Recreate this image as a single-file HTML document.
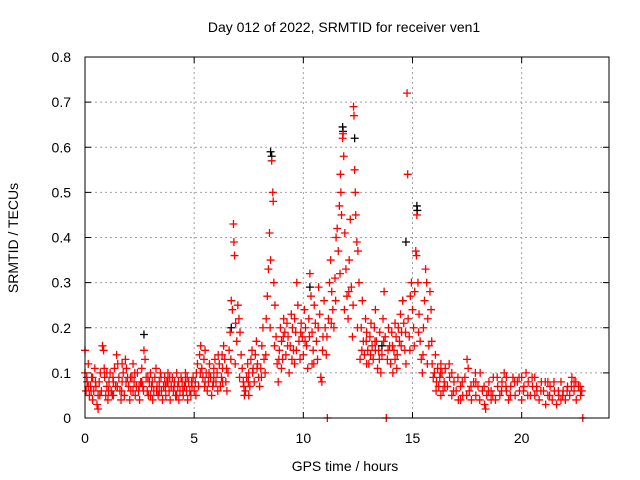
<!DOCTYPE html>
<html><head><meta charset="utf-8">
<style>
body{margin:0;background:#fff;}
svg{display:block;font-family:"Liberation Sans",sans-serif;}
</style></head>
<body>
<svg id="chart" width="640" height="480" viewBox="0 0 640 480">
<text x="344" y="32" font-size="14" text-anchor="middle">Day 012 of 2022, SRMTID for receiver ven1</text>
<text x="345" y="471" font-size="14" text-anchor="middle">GPS time / hours</text>
<text transform="translate(18,238) rotate(-90)" font-size="14" text-anchor="middle">SRMTID / TECUs</text>
<g id="grid"></g>
<g id="ticks"></g>
<g id="black"></g>
<g id="red"></g>
<rect x="85" y="57" width="524" height="361" fill="none" stroke="#000" stroke-width="1"/>
</svg>
<script>
const xTicks=[0,5,10,15,20];
const yTicks=[0,0.1,0.2,0.3,0.4,0.5,0.6,0.7,0.8];
const yTickLabels=["0","0.1","0.2","0.3","0.4","0.5","0.6","0.7","0.8"];
const blackPts=[[2.7,0.185],[8.5,0.59],[8.55,0.58],[11.8,0.645],[11.82,0.635],[12.35,0.62],[14.7,0.39],[15.2,0.47],[15.22,0.46],[14.55,0.26],[10.3,0.29],[6.7,0.2],[13.6,0.16]];
const redPts=[
[0,0.15],[0,0.1],[0.05,0.06],[0.1,0.08],[0.15,0.12],[0.2,0.05],[0.25,0.07],[0.3,0.09],[0.35,0.04],[0.4,0.06],[0.45,0.11],[0.5,0.07],[0.55,0.03],[0.6,0.02],[0.65,0.08],[0.7,0.1],[0.75,0.06],[0.8,0.16],[0.85,0.15],[0.9,0.09],[0.95,0.05],[1.0,0.07],[1.05,0.04],[1.1,0.08],[1.15,0.1],[1.2,0.06],[1.25,0.05],[1.3,0.08],[1.35,0.11],[1.4,0.07],[1.45,0.14],[1.5,0.12],[1.55,0.09],[1.6,0.06],[1.65,0.04],[1.7,0.08],[1.75,0.1],[1.8,0.05],[1.85,0.13],[1.9,0.11],[1.95,0.09],[2.0,0.07],[2.05,0.04],[2.1,0.06],[2.15,0.09],[2.2,0.12],[2.25,0.08],[2.3,0.05],[2.35,0.07],[2.4,0.1],[2.45,0.06],[2.5,0.04],[2.55,0.08],[2.6,0.11],[2.65,0.07],[2.7,0.15],[2.75,0.13],[2.8,0.09],[2.85,0.06],[2.9,0.05],[2.95,0.08],[3.0,0.1],[3.05,0.07],[3.1,0.04],[3.15,0.06],[3.2,0.09],[3.25,0.11],[3.3,0.07],[3.35,0.05],[3.4,0.08],[3.45,0.1],[3.5,0.06],[3.55,0.04],[3.6,0.07],[3.65,0.09],[3.7,0.05],[3.75,0.08],[3.8,0.1],[3.85,0.06],[3.9,0.04],[3.95,0.07],[4.0,0.09],[4.05,0.06],[4.1,0.08],[4.15,0.05],[4.2,0.1],[4.25,0.07],[4.3,0.04],[4.35,0.06],[4.4,0.09],[4.45,0.08],[4.5,0.05],[4.55,0.07],[4.6,0.1],[4.65,0.06],[4.7,0.04],[4.75,0.08],[4.8,0.06],[4.85,0.05],[4.9,0.07],[4.95,0.09],[5.0,0.06],[5.05,0.08],[5.1,0.1],[5.15,0.12],[5.2,0.07],[5.25,0.14],[5.3,0.16],[5.35,0.11],[5.4,0.09],[5.45,0.13],[5.5,0.15],[5.55,0.1],[5.6,0.06],[5.65,0.08],[5.7,0.12],[5.75,0.09],[5.8,0.05],[5.85,0.07],[5.9,0.11],[5.95,0.13],[6.0,0.08],[6.05,0.1],[6.1,0.14],[6.15,0.12],[6.2,0.07],[6.25,0.09],[6.3,0.11],[6.35,0.16],[6.4,0.13],[6.45,0.08],[6.5,0.06],[6.55,0.1],[6.6,0.15],[6.65,0.19],[6.7,0.26],[6.75,0.24],[6.8,0.43],[6.82,0.39],[6.85,0.36],[6.9,0.21],[6.95,0.17],[7.0,0.25],[7.05,0.22],[7.1,0.19],[7.15,0.14],[7.2,0.11],[7.25,0.08],[7.3,0.05],[7.35,0.06],[7.4,0.09],[7.45,0.12],[7.5,0.1],[7.55,0.07],[7.6,0.13],[7.65,0.15],[7.7,0.11],[7.75,0.08],[7.8,0.14],[7.85,0.17],[7.9,0.12],[7.95,0.09],[8.0,0.07],[8.05,0.11],[8.1,0.16],[8.15,0.2],[8.2,0.13],[8.25,0.1],[8.3,0.22],[8.35,0.27],[8.4,0.33],[8.45,0.41],[8.5,0.35],[8.55,0.57],[8.6,0.5],[8.62,0.48],[8.65,0.3],[8.7,0.25],[8.75,0.18],[8.8,0.12],[8.85,0.08],[8.9,0.15],[8.95,0.2],[9.0,0.17],[9.05,0.13],[9.1,0.22],[9.15,0.19],[9.2,0.14],[9.25,0.21],[9.3,0.18],[9.35,0.1],[9.4,0.16],[9.45,0.23],[9.5,0.2],[9.55,0.15],[9.6,0.12],[9.65,0.19],[9.7,0.3],[9.75,0.25],[9.8,0.17],[9.85,0.13],[9.9,0.21],[9.95,0.18],[10.0,0.14],[10.05,0.24],[10.1,0.2],[10.15,0.16],[10.2,0.11],[10.25,0.22],[10.3,0.32],[10.35,0.27],[10.4,0.19],[10.45,0.15],[10.5,0.25],[10.55,0.21],[10.6,0.17],[10.65,0.13],[10.7,0.29],[10.75,0.23],[10.8,0.09],[10.85,0.08],[10.9,0.18],[10.95,0.26],[11.0,0.2],[11.05,0.14],[11.1,0.0],[11.15,0.22],[11.2,0.3],[11.25,0.35],[11.3,0.28],[11.35,0.24],[11.4,0.2],[11.45,0.31],[11.5,0.4],[11.55,0.42],[11.6,0.37],[11.65,0.47],[11.7,0.54],[11.72,0.5],[11.75,0.45],[11.8,0.62],[11.82,0.63],[11.85,0.58],[11.9,0.41],[11.95,0.33],[12.0,0.27],[12.05,0.22],[12.1,0.35],[12.15,0.44],[12.2,0.29],[12.25,0.18],[12.3,0.69],[12.32,0.67],[12.35,0.55],[12.38,0.5],[12.4,0.45],[12.45,0.39],[12.5,0.37],[12.55,0.3],[12.6,0.13],[12.65,0.2],[12.7,0.26],[12.75,0.17],[12.8,0.14],[12.85,0.22],[12.9,0.19],[12.95,0.15],[13.0,0.12],[13.05,0.18],[13.1,0.21],[13.15,0.16],[13.2,0.13],[13.25,0.2],[13.3,0.24],[13.35,0.17],[13.4,0.11],[13.45,0.15],[13.5,0.19],[13.55,0.1],[13.6,0.14],[13.65,0.22],[13.7,0.28],[13.75,0.18],[13.8,0.0],[13.85,0.13],[13.9,0.2],[13.95,0.16],[14.0,0.12],[14.05,0.19],[14.1,0.1],[14.15,0.15],[14.2,0.21],[14.25,0.18],[14.3,0.14],[14.35,0.2],[14.4,0.17],[14.45,0.23],[14.5,0.19],[14.55,0.26],[14.6,0.21],[14.65,0.15],[14.7,0.12],[14.75,0.72],[14.78,0.54],[14.8,0.22],[14.85,0.18],[14.9,0.27],[14.95,0.3],[15.0,0.24],[15.05,0.2],[15.1,0.28],[15.15,0.37],[15.18,0.36],[15.2,0.45],[15.25,0.3],[15.3,0.23],[15.35,0.17],[15.4,0.13],[15.45,0.1],[15.5,0.2],[15.55,0.26],[15.6,0.33],[15.65,0.3],[15.7,0.22],[15.75,0.16],[15.8,0.28],[15.85,0.24],[15.9,0.12],[15.95,0.09],[16.0,0.1],[16.05,0.14],[16.1,0.08],[16.15,0.11],[16.2,0.07],[16.25,0.09],[16.3,0.12],[16.35,0.1],[16.4,0.06],[16.45,0.08],[16.5,0.11],[16.6,0.07],[16.7,0.09],[16.8,0.05],[16.9,0.08],[17.0,0.06],[17.1,0.04],[17.2,0.07],[17.3,0.05],[17.4,0.09],[17.5,0.13],[17.55,0.11],[17.6,0.06],[17.7,0.04],[17.8,0.08],[17.9,0.05],[18.0,0.07],[18.1,0.1],[18.2,0.06],[18.3,0.03],[18.35,0.02],[18.4,0.05],[18.5,0.08],[18.6,0.06],[18.7,0.09],[18.8,0.04],[18.9,0.07],[19.0,0.05],[19.1,0.08],[19.2,0.1],[19.3,0.06],[19.4,0.04],[19.5,0.07],[19.6,0.09],[19.7,0.05],[19.8,0.08],[19.9,0.06],[20.0,0.04],[20.1,0.07],[20.2,0.1],[20.3,0.08],[20.4,0.05],[20.5,0.07],[20.6,0.09],[20.7,0.06],[20.8,0.04],[20.9,0.08],[21.0,0.06],[21.1,0.03],[21.2,0.05],[21.3,0.07],[21.4,0.04],[21.5,0.06],[21.6,0.03],[21.7,0.05],[21.8,0.08],[21.9,0.06],[22.0,0.04],[22.1,0.07],[22.2,0.05],[22.3,0.09],[22.4,0.06],[22.5,0.04],[22.6,0.07],[22.7,0.05],[22.75,0.06],[22.8,0.0]
];
const extraRed=[[0.15,0.07],[0.35,0.09],[0.6,0.05],[1.0,0.1],[1.3,0.05],[1.7,0.12],[2.2,0.06],[2.6,0.08],[3.0,0.05],[3.4,0.06],[3.8,0.08],[4.2,0.05],[4.6,0.08],[5.5,0.08],[5.9,0.09],[6.3,0.08],[7.5,0.05],[9.0,0.11],[9.6,0.22],[10.4,0.12],[12.9,0.12],[13.3,0.15],[14.2,0.13],[16.3,0.05],[16.8,0.1],[17.2,0.04],[17.9,0.08],[18.6,0.04],[19.3,0.09],[20.0,0.09],[20.6,0.05],[21.2,0.08],[21.8,0.04],[22.4,0.08]];
const denseRed=[[0.08,0.09],[0.28,0.06],[0.48,0.08],[0.68,0.05],[0.88,0.11],[1.08,0.06],[1.28,0.09],[1.48,0.07],[1.68,0.06],[1.88,0.08],[2.08,0.09],[2.28,0.1],[2.48,0.07],[2.68,0.06],[2.88,0.09],[3.08,0.08],[3.28,0.06],[3.48,0.09],[3.68,0.07],[3.88,0.09],[4.08,0.07],[4.28,0.08],[4.48,0.06],[4.68,0.09],[4.88,0.08],[5.08,0.05],[5.28,0.1],[5.48,0.07],[5.68,0.1],[5.88,0.08],[6.08,0.06],[6.28,0.14],[6.48,0.11],[6.68,0.13],[6.88,0.12],[7.08,0.09],[7.28,0.07],[7.48,0.08],[7.68,0.1],[7.88,0.11],[8.08,0.09],[8.28,0.14],[8.48,0.2],[8.68,0.16],[8.88,0.13],[9.08,0.18],[9.28,0.16],[9.48,0.13],[9.68,0.15],[9.88,0.19],[10.08,0.17],[10.28,0.18],[10.48,0.12],[10.68,0.2],[10.88,0.15],[11.08,0.18],[11.28,0.21],[11.48,0.26],[11.68,0.32],[11.88,0.24],[12.08,0.28],[12.28,0.25],[12.48,0.2],[12.68,0.15],[12.88,0.17],[13.08,0.14],[13.28,0.17],[13.48,0.13],[13.68,0.17],[13.88,0.15],[14.08,0.16],[14.28,0.11],[14.48,0.16],[14.68,0.19],[14.88,0.15],[15.08,0.16],[15.28,0.19],[15.48,0.14],[15.68,0.12],[15.88,0.17],[16.08,0.06],[16.28,0.1],[16.48,0.07],[16.68,0.12],[16.88,0.06],[17.08,0.09],[17.28,0.08],[17.48,0.05],[17.68,0.07],[17.88,0.1],[18.08,0.04],[18.28,0.07],[18.48,0.06],[18.68,0.05],[18.88,0.09],[19.08,0.06],[19.28,0.07],[19.48,0.05],[19.68,0.08],[19.88,0.09],[20.08,0.06],[20.28,0.05],[20.48,0.09],[20.68,0.07],[20.88,0.06],[21.08,0.08],[21.28,0.05],[21.48,0.08],[21.68,0.06],[21.88,0.05],[22.08,0.06],[22.28,0.07],[22.48,0.08],[22.68,0.07]];
const X0=85,X1=609,Y0=418,Y1=57,XMAX=24,YMAX=0.8;
function sx(t){return X0+t/XMAX*(X1-X0);}
function sy(v){return Y0-v/YMAX*(Y0-Y1);}
const NS='http://www.w3.org/2000/svg';
function mk(tag,attrs,parent){const e=document.createElementNS(NS,tag);for(const k in attrs)e.setAttribute(k,attrs[k]);parent.appendChild(e);return e;}
const grid=document.getElementById('grid'),ticks=document.getElementById('ticks');
xTicks.forEach(t=>{const x=sx(t);
 if(t>0){const g=mk('line',{x1:x,x2:x,y1:Y1,y2:Y0,stroke:'#a0a0a0','stroke-dasharray':'2,3'},grid);
 
 }
 const tl=mk('text',{x:x,y:443,'font-size':14,'text-anchor':'middle'},ticks);tl.textContent=t;
 
 
 mk('line',{x1:x,x2:x,y1:Y0,y2:Y0-6,stroke:'#000'},ticks);
 mk('line',{x1:x,x2:x,y1:Y1,y2:Y1+6,stroke:'#000'},ticks);
});
yTicks.forEach((v,i)=>{const y=sy(v);
 if(i>0&&i<yTicks.length-1){const g=mk('line',{x1:X0,x2:X1,y1:y,y2:y,stroke:'#a0a0a0','stroke-dasharray':'2,3'},grid);
 
 }
 const tl=mk('text',{x:71,y:y+5,'font-size':14,'text-anchor':'end'},ticks);tl.textContent=yTickLabels[i];
 
 
 mk('line',{x1:X0,x2:X0+6,y1:y,y2:y,stroke:'#000'},ticks);
 mk('line',{x1:X1,x2:X1-6,y1:y,y2:y,stroke:'#000'},ticks);
});
function plus(pts,color,g,name){
 let d='';pts.forEach(p=>{const x=sx(p[0]),y=sy(p[1]);d+=`M${x-4},${y}h8M${x},${y-4}v8`;});
 const e=mk('path',{d:d,stroke:color,'stroke-width':1.3,fill:'none'},g);
 
 
}
plus(blackPts,'#000',document.getElementById('black'),'black-points');
plus(redPts.concat(extraRed,denseRed),'#ff0000',document.getElementById('red'),'red-points');
</script>
</body></html>
